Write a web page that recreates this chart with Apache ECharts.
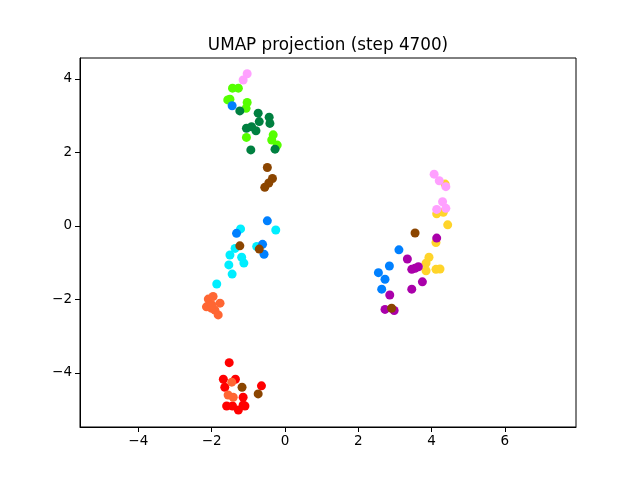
<!DOCTYPE html>
<html>
<head>
<meta charset="utf-8">
<script src="https://cdn.jsdelivr.net/npm/echarts@6/dist/echarts.min.js"></script>
<style>html,body{margin:0;padding:0;background:#fff}#c{width:640px;height:480px}</style>
</head>
<body>
<div id="c"></div>
<script>
const titleText = "UMAP projection (step 4700)";
const xTicks = [-4, -2, 0, 2, 4, 6];
const yTicks = [-4, -2, 0, 2, 4];

const yellowPts = [[4.37,1.14],[4.14,0.33],[4.32,0.37],[4.44,0.03],[4.12,-0.45],[3.93,-0.85],[3.85,-1.01],[3.85,-1.22],[4.12,-1.18],[4.23,-1.17]];
const purplePts = [[4.14,-0.33],[3.34,-0.90],[3.46,-1.18],[3.64,-1.11],[3.55,-1.15],[3.75,-1.52],[3.46,-1.72],[2.86,-1.88],[2.73,-2.27],[2.98,-2.30]];
const cyanPts = [[-0.25,-0.11],[-1.21,-0.08],[-1.36,-0.61],[-0.77,-0.56],[-1.50,-0.79],[-1.18,-0.85],[-1.53,-1.06],[-1.12,-1.01],[-1.44,-1.31],[-1.86,-1.58]];
const lightGreenPts = [[-1.43,3.75],[-1.27,3.75],[-1.50,3.45],[-1.56,3.43],[-1.03,3.36],[-1.06,3.20],[-1.05,2.41],[-0.32,2.48],[-0.36,2.34],[-0.21,2.20]];
const darkGreenPts = [[-1.23,3.13],[-0.73,3.07],[-0.70,2.84],[-0.43,2.96],[-0.41,2.79],[-1.05,2.66],[-0.91,2.70],[-0.79,2.59],[-0.93,2.07],[-0.27,2.09]];
const redPts = [[-1.52,-3.72],[-1.68,-4.17],[-1.35,-4.17],[-1.64,-4.39],[-0.64,-4.35],[-1.14,-4.66],[-1.14,-4.87],[-1.59,-4.90],[-1.43,-4.90],[-1.27,-5.01],[-1.09,-4.90]];
const bluePts = [[-1.44,3.27],[-0.48,0.14],[-1.32,-0.20],[-0.61,-0.50],[-0.57,-0.77],[3.11,-0.65],[2.85,-1.09],[2.55,-1.27],[2.73,-1.45],[2.64,-1.72]];
const orangePts = [[-2.09,-1.99],[-1.96,-1.92],[-1.77,-2.10],[-2.14,-2.20],[-2.00,-2.24],[-1.91,-2.29],[-1.82,-2.42],[-1.99,-2.15],[-1.45,-4.25],[-1.55,-4.60],[-1.41,-4.66]];
const pinkPts = [[-1.03,4.14],[-1.14,3.97],[4.07,1.41],[4.21,1.23],[4.39,1.07],[4.30,0.66],[4.14,0.45],[4.39,0.48]];
const brownPts = [[-0.48,1.59],[-0.34,1.29],[-0.44,1.17],[-0.55,1.05],[-1.23,-0.54],[-0.70,-0.63],[-1.17,-4.39],[-0.73,-4.57],[3.55,-0.19],[2.91,-2.24]];

const groups = [
  [yellowPts, '#ffd42a'],
  [cyanPts, '#00eeff'],
  [lightGreenPts, '#55ff00'],
  [darkGreenPts, '#008040'],
  [redPts, '#ff0000'],
  [bluePts, '#0080ff'],
  [orangePts, '#ff6633'],
  [pinkPts, '#ffa0ff'],
  [purplePts, '#aa00aa'],
  [brownPts, '#8b4500']
];

const fmt = v => String(v).replace('-', '\u2212');
const chart = echarts.init(document.getElementById('c'), null, {renderer: 'canvas'});
chart.setOption({
  animation: false,
  title: {
    text: titleText, left: 323, top: 32, textAlign: 'center',
    textStyle: {fontFamily: 'DejaVu Sans', fontSize: 16.8, fontWeight: 'normal', color: '#000'}
  },
  grid: {left: 80, right: 64, top: 58, bottom: 53, show: true, borderColor: '#000', borderWidth: 1, backgroundColor: 'transparent'},
  xAxis: {
    type: 'value', min: -5.59, max: 7.94,
    axisLine: {show: true, onZero: false, lineStyle: {color: '#000', width: 1}},
    axisTick: {show: true, length: 5, customValues: xTicks, lineStyle: {color: '#000'}},
    axisLabel: {customValues: xTicks, formatter: fmt, margin: 7, fontFamily: 'DejaVu Sans', fontSize: 13.5, color: '#000'},
    splitLine: {show: false}
  },
  yAxis: {
    type: 'value', min: -5.47, max: 4.57,
    axisLine: {show: true, onZero: false, lineStyle: {color: '#000', width: 1}},
    axisTick: {show: true, length: 5, customValues: yTicks, lineStyle: {color: '#000'}},
    axisLabel: {customValues: yTicks, formatter: fmt, margin: 8, fontFamily: 'DejaVu Sans', fontSize: 13.5, color: '#000'},
    splitLine: {show: false}
  },
  series: groups.map(g => ({
    type: 'scatter', data: g[0], symbol: 'circle', symbolSize: 9,
    itemStyle: {color: g[1], opacity: 1}, emphasis: {disabled: true}
  }))
});
</script>
</body>
</html>
